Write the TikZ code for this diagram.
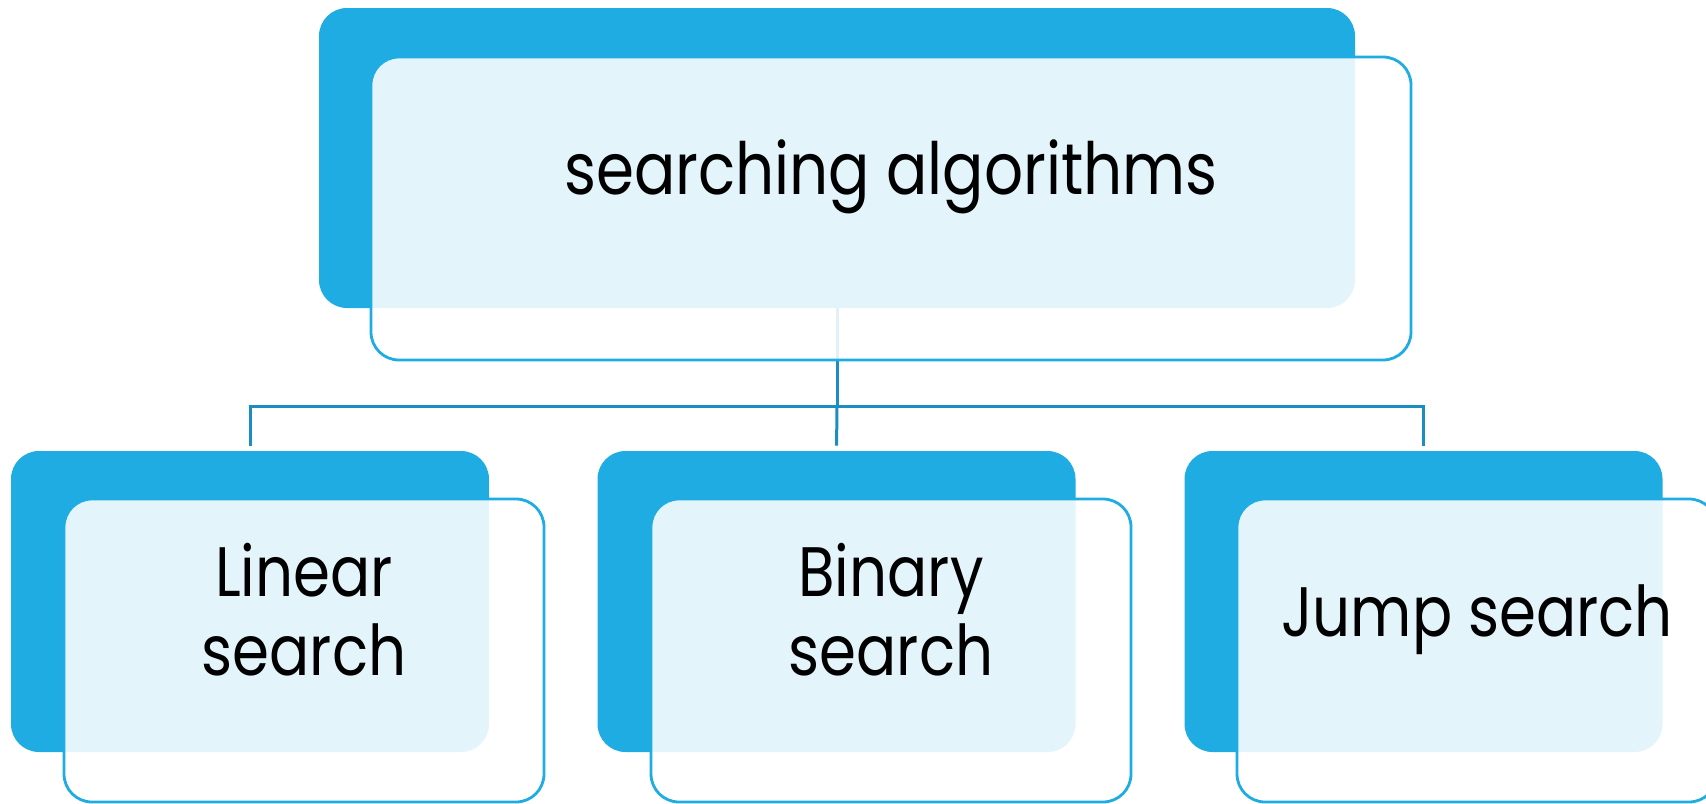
\documentclass[tikz,border=0pt]{standalone}
\usepackage{fontspec}
\setmainfont{Poppins}[FakeStretch=0.85]
\usetikzlibrary{positioning}
\definecolor{boxblue}{HTML}{1EACE2}
\definecolor{linkblue}{HTML}{1A8DC1}
\tikzset{
  backbox/.style={fill=boxblue, rounded corners=14pt, inner sep=0pt},
  frontbox/.style={draw=boxblue, line width=1.4pt, fill=white, fill opacity=0.88, rounded corners=14pt, inner sep=0pt},
  link/.style={draw=linkblue, line width=1.5pt},
  lbl/.style={font=\fontsize{35}{39.5}\selectfont, align=center, anchor=base},
}

\begin{document}
\begin{tikzpicture}[x=0.5pt, y=-0.5pt]
  \useasboundingbox (0,0) rectangle (1706,803);
  % back boxes
  \node[backbox, minimum width=518pt, minimum height=150pt] (topB) at (837,158) {};
  \node[backbox, minimum width=239pt, minimum height=150.5pt] (linB) at (250,601.5) {};
  \node[backbox, minimum width=239pt, minimum height=150.5pt] (binB) at (836.5,601.5) {};
  \node[backbox, minimum width=239pt, minimum height=150.5pt] (jmpB) at (1423.5,601.5) {};
  % connectors
  \coordinate (bus) at (837,406);
  \draw[link] (topB.south) -- (bus);
  \draw[link, shorten >=2.5pt] (bus) -| (linB.north);
  \draw[link, shorten >=2.5pt] (bus) -- (binB.north);
  \draw[link, shorten >=2.5pt] (bus) -| (jmpB.north);
  % front boxes
  \node[frontbox, minimum width=520pt, minimum height=151.5pt] (topF) at (891,208.5) {};
  \node[frontbox, minimum width=240pt, minimum height=151.5pt] (linF) at (304,650.5) {};
  \node[frontbox, minimum width=240pt, minimum height=151.5pt] (binF) at (891,650.5) {};
  \node[frontbox, minimum width=240pt, minimum height=151.5pt] (jmpF) at (1477,650.5) {};
  % labels
  \node[lbl, font=\fontsize{36}{40}\selectfont] (topT) at (891,194) {searching algorithms};
  \node[lbl] (linT) at (304,675) {Linear\\search};
  \node[lbl] (binT) at (891,675) {Binary\\search};
  \node[lbl] (jmpT) at (1477,636) {Jump search};
\end{tikzpicture}
\end{document}
